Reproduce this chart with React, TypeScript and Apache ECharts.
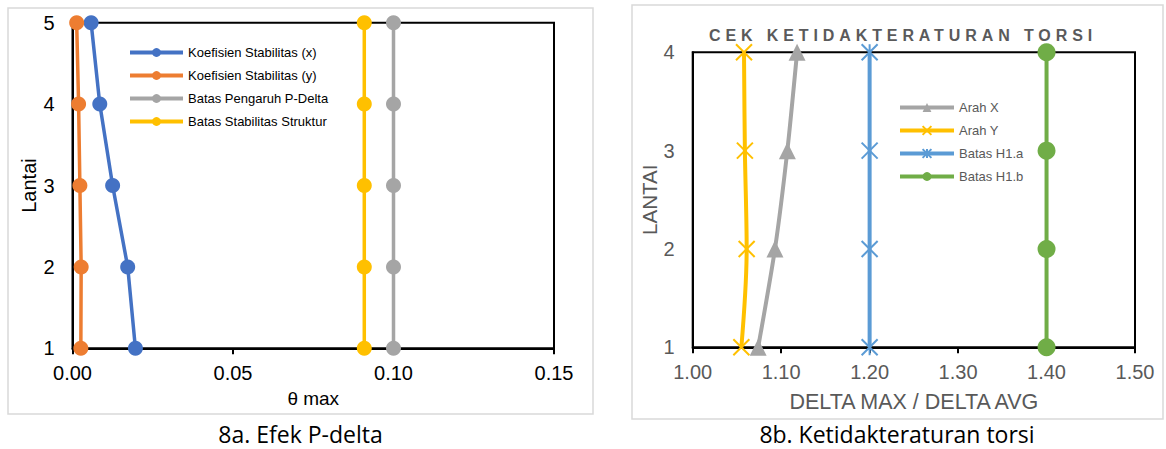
import React, { useEffect, useRef } from "react";
import * as echarts from "echarts";

// ---- Chart 8a: Efek P-delta ----
const floorsA = [1, 2, 3, 4, 5];
const koefX = [0.0196, 0.0172, 0.0125, 0.0085, 0.0058];
const koefY = [0.0026, 0.0027, 0.0023, 0.0019, 0.0013];
const batasPDelta = [0.1, 0.1, 0.1, 0.1, 0.1];
const batasStabilitas = [0.0909, 0.0909, 0.0909, 0.0909, 0.0909];
const namesA = [
  "Koefisien Stabilitas (x)",
  "Koefisien Stabilitas (y)",
  "Batas Pengaruh P-Delta",
  "Batas Stabilitas Struktur",
];

// ---- Chart 8b: Ketidakteraturan torsi ----
const floorsB = [1, 2, 3, 4];
const arahX = [1.074, 1.093, 1.107, 1.118];
const arahY = [1.055, 1.061, 1.059, 1.058];
const batasH1a = [1.2, 1.2, 1.2, 1.2];
const batasH1b = [1.4, 1.4, 1.4, 1.4];
const namesB = ["Arah X", "Arah Y", "Batas H1.a", "Batas H1.b"];

const ARIAL = '"Liberation Sans", Arial, sans-serif';
const CAPTION = '"Open Sans", "Noto Sans", sans-serif';
const TITLE_FILL = "#5a5a5b";

const pairs = (xs: number[], ys: number[]) => xs.map((x, i) => [x, ys[i]]);

const X_PATH = "path://M0,0L10,10M10,0L0,10";
const STAR_PATH = "path://M0,0L10,10M10,0L0,10M5,0L5,10";

export default function App() {
  const ref = useRef<HTMLDivElement>(null);

  useEffect(() => {
    if (!ref.current) return;
    const chart = echarts.init(ref.current, undefined, { renderer: "svg" });

    const lineA = (name: string, xs: number[], color: string) => ({
      type: "line",
      name,
      xAxisIndex: 0,
      yAxisIndex: 0,
      data: pairs(xs, floorsA),
      symbol: "circle",
      symbolSize: 15,
      clip: false,
      lineStyle: { color, width: 3.5 },
      itemStyle: { color },
    });

    const option: any = {
      animation: false,
      backgroundColor: "#ffffff",
      grid: [
        {
          left: 72.5,
          top: 22.7,
          width: 481.5,
          height: 325.6,
          show: true,
          borderColor: "#000",
          borderWidth: 2,
          backgroundColor: "transparent",
        },
        {
          left: 692.7,
          top: 52.3,
          width: 442.3,
          height: 295,
          show: true,
          borderColor: "#000",
          borderWidth: 2,
          backgroundColor: "transparent",
        },
      ],
      xAxis: [
        {
          gridIndex: 0,
          type: "value",
          min: 0,
          max: 0.15,
          interval: 0.05,
          name: "θ max",
          nameLocation: "middle",
          nameGap: 41,
          nameTextStyle: { color: "#000", fontSize: 19, fontFamily: ARIAL },
          axisLine: { show: true, lineStyle: { color: "#000", width: 2 } },
          axisTick: { show: true, length: 6, lineStyle: { color: "#000", width: 2 } },
          axisLabel: {
            color: "#000",
            fontSize: 20,
            fontFamily: ARIAL,
            margin: 15,
            formatter: (v: number) => v.toFixed(2),
          },
          splitLine: { show: false },
        },
        {
          gridIndex: 1,
          type: "value",
          min: 1,
          max: 1.5,
          interval: 0.1,
          name: "DELTA MAX / DELTA AVG",
          nameLocation: "middle",
          nameGap: 44,
          nameTextStyle: { color: "#595959", fontSize: 21.5, fontFamily: ARIAL },
          axisLine: { show: true, lineStyle: { color: "#000", width: 2 } },
          axisTick: { show: true, length: 6, lineStyle: { color: "#000", width: 2 } },
          axisLabel: {
            color: "#595959",
            fontSize: 20,
            fontFamily: ARIAL,
            margin: 15,
            formatter: (v: number) => v.toFixed(2),
          },
          splitLine: { show: false },
        },
      ],
      yAxis: [
        {
          gridIndex: 0,
          type: "value",
          min: 1,
          max: 5,
          interval: 1,
          name: "Lantai",
          nameLocation: "middle",
          nameGap: 34,
          nameTextStyle: { color: "#000", fontSize: 20, fontFamily: ARIAL },
          axisLine: { show: true, lineStyle: { color: "#000", width: 2 } },
          axisTick: { show: false },
          axisLabel: { color: "#000", fontSize: 20, fontFamily: ARIAL, margin: 18 },
          splitLine: { show: false },
        },
        {
          gridIndex: 1,
          type: "value",
          min: 1,
          max: 4,
          interval: 1,
          name: "LANTAI",
          nameLocation: "middle",
          nameGap: 32,
          nameTextStyle: { color: "#595959", fontSize: 20.5, fontFamily: ARIAL },
          axisLine: { show: true, lineStyle: { color: "#000", width: 2 } },
          axisTick: { show: false },
          axisLabel: { color: "#595959", fontSize: 20, fontFamily: ARIAL, margin: 18 },
          splitLine: { show: false },
        },
      ],
      legend: [
        {
          data: namesA,
          orient: "vertical",
          left: 128,
          top: 46,
          padding: 0,
          itemWidth: 53,
          itemHeight: 11,
          itemGap: 10,
          lineStyle: { width: 4 },
          textStyle: { color: "#000", fontSize: 13, fontFamily: ARIAL },
          selectedMode: false,
        },
        {
          data: namesB,
          orient: "vertical",
          left: 898,
          top: 101,
          padding: 0,
          itemWidth: 54,
          itemHeight: 11,
          itemGap: 10,
          lineStyle: { width: 4 },
          textStyle: { color: "#595959", fontSize: 13, fontFamily: ARIAL },
          selectedMode: false,
        },
      ],
      graphic: [
        {
          type: "rect",
          shape: { x: 8, y: 8, width: 585, height: 406 },
          style: { fill: "none", stroke: "#d9d9d9", lineWidth: 1.5 },
          silent: true,
        },
        {
          type: "rect",
          shape: { x: 632, y: 5, width: 531, height: 414 },
          style: { fill: "none", stroke: "#d9d9d9", lineWidth: 1.5 },
          silent: true,
        },
        {
          type: "text",
          x: 903,
          y: 35,
          style: {
            text: "CEK KETIDAKTERATURAN TORSI",
            fill: TITLE_FILL,
            fontSize: 16,
            fontWeight: "bold",
            fontFamily: ARIAL,
            textAlign: "center",
            textVerticalAlign: "middle",
          },
          silent: true,
        },
        {
          type: "text",
          x: 300.5,
          y: 434,
          style: {
            text: "8a. Efek P-delta",
            fill: "#000",
            fontSize: 23,
            fontFamily: CAPTION,
            textAlign: "center",
            textVerticalAlign: "middle",
          },
          silent: true,
        },
        {
          type: "text",
          x: 897,
          y: 434,
          style: {
            text: "8b. Ketidakteraturan torsi",
            fill: "#000",
            fontSize: 23,
            fontFamily: CAPTION,
            textAlign: "center",
            textVerticalAlign: "middle",
          },
          silent: true,
        },
      ],
      series: [
        lineA(namesA[0], koefX, "#4472C4"),
        lineA(namesA[1], koefY, "#ED7D31"),
        lineA(namesA[2], batasPDelta, "#A5A5A5"),
        lineA(namesA[3], batasStabilitas, "#FFC000"),
        {
          type: "line",
          name: namesB[0],
          xAxisIndex: 1,
          yAxisIndex: 1,
          data: pairs(arahX, floorsB),
          symbol: "triangle",
          symbolSize: 17,
          smooth: 0.25,
          clip: false,
          lineStyle: { color: "#A5A5A5", width: 4 },
          itemStyle: { color: "#A5A5A5" },
        },
        {
          type: "line",
          name: namesB[1],
          xAxisIndex: 1,
          yAxisIndex: 1,
          data: pairs(arahY, floorsB),
          symbol: X_PATH,
          symbolSize: 16,
          smooth: 0.35,
          clip: false,
          lineStyle: { color: "#FFC000", width: 4 },
          itemStyle: { color: "#FFC000", borderColor: "#FFC000", borderWidth: 2 },
        },
        {
          type: "line",
          name: namesB[2],
          xAxisIndex: 1,
          yAxisIndex: 1,
          data: pairs(batasH1a, floorsB),
          symbol: STAR_PATH,
          symbolSize: 16,
          clip: false,
          lineStyle: { color: "#5B9BD5", width: 4 },
          itemStyle: { color: "#5B9BD5", borderColor: "#5B9BD5", borderWidth: 2 },
        },
        {
          type: "line",
          name: namesB[3],
          xAxisIndex: 1,
          yAxisIndex: 1,
          data: pairs(batasH1b, floorsB),
          symbol: "circle",
          symbolSize: 18,
          clip: false,
          lineStyle: { color: "#70AD47", width: 4 },
          itemStyle: { color: "#70AD47" },
        },
      ],
    };

    chart.setOption(option);
    return () => chart.dispose();
  }, []);

  return (
    <>
      <style>{`text[fill="${TITLE_FILL}"]{letter-spacing:4.9px;}`}</style>
      <div
        ref={ref}
        style={{
          position: "absolute",
          left: 0,
          top: 0,
          width: 1166,
          height: 449,
          background: "#fff",
        }}
      />
    </>
  );
}
